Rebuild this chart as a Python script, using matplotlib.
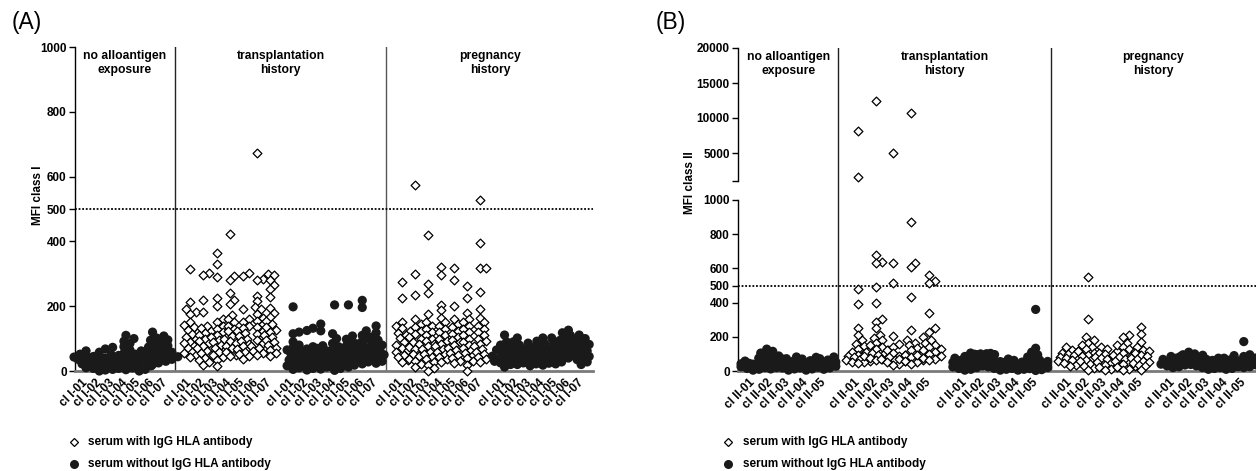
import numpy as np
import matplotlib
matplotlib.use("Agg")
import matplotlib.pyplot as plt
from matplotlib.lines import Line2D

plt.rcParams['font.family'] = ['Liberation Sans', 'DejaVu Sans']

# ---- data: panel A, MFI class I (one list per bead column) ----
a_labels = ['cl I-01', 'cl I-02', 'cl I-03', 'cl I-04', 'cl I-05', 'cl I-06', 'cl I-07']

a_none = [
    [62, 52, 45, 43, 41, 40, 38, 36, 33, 28, 22, 15, 10],
    [68, 58, 50, 44, 40, 35, 30, 27, 22, 18, 12, 8, 3, 0],
    [73, 48, 42, 36, 30, 25, 20, 16, 12, 8, 5],
    [110, 100, 92, 85, 75, 65, 55, 48, 42, 38, 33, 28, 22, 16, 10, 4],
    [62, 52, 48, 44, 40, 35, 30, 22, 16, 10, 5, 0],
    [120, 102, 95, 88, 80, 74, 68, 62, 57, 52, 47, 42, 36, 30, 25, 20],
    [108, 96, 85, 78, 70, 64, 58, 52, 48, 44, 40, 36, 30],
]
a_tx_pos = [
    [315, 212, 190, 182, 176, 150, 142, 135, 128, 120, 113, 105, 98, 90, 85, 78, 72, 66, 60, 55, 48, 44],
    [302, 296, 220, 183, 140, 133, 125, 118, 110, 100, 92, 85, 78, 70, 62, 55, 48, 40, 35, 28, 20],
    [365, 330, 290, 224, 200, 160, 150, 140, 130, 120, 112, 104, 96, 88, 80, 72, 65, 58, 50, 42, 35, 15],
    [422, 292, 280, 242, 220, 208, 172, 160, 150, 140, 130, 122, 115, 108, 100, 92, 85, 78, 70, 60, 50, 45],
    [302, 292, 190, 160, 150, 140, 132, 124, 116, 108, 100, 92, 84, 76, 68, 60, 52, 45, 38],
    [673, 283, 280, 232, 215, 198, 190, 175, 165, 155, 145, 135, 125, 115, 105, 95, 85, 78, 70, 62, 55, 50],
    [300, 296, 282, 265, 252, 228, 195, 180, 168, 155, 145, 135, 128, 120, 112, 104, 96, 88, 80, 72, 64, 55, 45],
]
a_tx_neg = [
    [198, 120, 115, 90, 80, 72, 65, 58, 52, 46, 40, 34, 28, 22, 16, 10, 5],
    [132, 125, 75, 68, 62, 56, 50, 44, 38, 32, 26, 20, 14, 8, 3],
    [145, 124, 78, 70, 62, 55, 48, 42, 36, 30, 24, 18, 12, 6],
    [204, 115, 100, 85, 75, 66, 58, 50, 44, 38, 32, 26, 20, 14, 8, 2],
    [204, 108, 98, 88, 78, 70, 62, 55, 48, 42, 36, 30, 24, 18, 12],
    [218, 196, 124, 110, 100, 92, 84, 76, 68, 60, 52, 46, 40, 34, 28, 22],
    [139, 118, 105, 95, 88, 80, 74, 68, 62, 56, 50, 44, 38, 30, 24],
]
a_preg_pos = [
    [276, 225, 150, 140, 132, 125, 118, 110, 102, 95, 88, 80, 72, 65, 58, 50, 42, 35, 28],
    [574, 299, 235, 160, 145, 135, 125, 115, 105, 98, 90, 82, 75, 68, 60, 52, 45, 38, 30, 22, 12],
    [420, 268, 242, 177, 150, 140, 130, 120, 110, 100, 92, 84, 76, 68, 60, 52, 44, 36, 28, 20, 8, 0],
    [321, 297, 204, 187, 165, 150, 140, 130, 120, 110, 100, 92, 84, 76, 68, 60, 52, 44, 36, 28],
    [317, 280, 200, 160, 145, 135, 125, 115, 105, 96, 88, 80, 72, 64, 56, 48, 40, 32, 24],
    [262, 224, 180, 160, 150, 140, 130, 120, 110, 100, 90, 80, 72, 64, 56, 48, 40, 30, 20, 0],
    [528, 395, 318, 318, 243, 191, 165, 150, 140, 130, 120, 110, 100, 92, 84, 76, 68, 60, 52, 44, 36, 28],
]
a_preg_neg = [
    [111, 90, 80, 72, 65, 60, 55, 50, 46, 42, 38, 34, 30, 25, 20, 12],
    [102, 90, 80, 72, 66, 60, 55, 50, 45, 40, 35, 30, 25, 20],
    [86, 78, 70, 64, 58, 53, 48, 44, 40, 36, 32, 28, 22, 16],
    [102, 92, 84, 76, 68, 62, 56, 50, 45, 40, 35, 30, 24, 18],
    [102, 94, 86, 80, 74, 68, 62, 56, 50, 45, 40, 34, 28, 22],
    [126, 118, 110, 102, 95, 88, 82, 76, 70, 64, 58, 52, 46, 40],
    [111, 100, 90, 82, 75, 68, 62, 56, 50, 45, 40, 35, 28, 20],
]

# ---- data: panel B, MFI class II ----
b_labels = ['cl II-01', 'cl II-02', 'cl II-03', 'cl II-04', 'cl II-05']

b_none = [
    [58, 52, 48, 45, 42, 40, 38, 36, 34, 32, 30, 28, 25, 20, 15, 10, 5],
    [128, 115, 105, 95, 88, 80, 75, 70, 65, 60, 50, 42, 35, 28, 20, 12],
    [82, 72, 62, 55, 48, 42, 38, 34, 30, 26, 22, 18, 12, 5],
    [80, 70, 60, 52, 46, 42, 38, 34, 30, 26, 22, 18, 12, 5],
    [82, 72, 64, 58, 52, 48, 44, 40, 36, 32, 28, 24, 18, 10],
]
b_tx_pos = [
    [8200, 1530, 478, 392, 250, 210, 180, 160, 145, 130, 120, 110, 100, 95, 90, 85, 80, 75, 70, 65, 60, 55, 50, 45],
    [12500, 678, 640, 632, 489, 400, 302, 288, 250, 210, 195, 180, 165, 150, 140, 130, 120, 112, 105, 98, 92, 86, 80, 74, 68, 62],
    [5000, 630, 513, 205, 160, 140, 120, 105, 95, 88, 80, 72, 65, 58, 50, 42, 35],
    [10700, 870, 630, 606, 435, 240, 180, 165, 150, 135, 120, 108, 96, 88, 80, 72, 65, 58, 50, 42],
    [561, 528, 516, 337, 250, 230, 197, 180, 165, 150, 140, 130, 120, 110, 100, 92, 85, 78, 70, 62],
]
b_tx_neg = [
    [95, 85, 75, 68, 62, 56, 50, 45, 40, 36, 32, 28, 24, 20, 15, 10, 5],
    [105, 103, 101, 100, 98, 96, 94, 92, 90, 88, 85, 80, 75, 70, 60, 50, 40, 30],
    [80, 70, 62, 55, 50, 45, 42, 38, 35, 32, 28, 24, 20, 15, 10, 5],
    [70, 62, 56, 52, 48, 44, 40, 36, 32, 28, 24, 20, 15, 10, 5],
    [360, 133, 110, 95, 82, 72, 64, 56, 50, 44, 38, 32, 26, 20, 14, 8, 3],
]
b_preg_pos = [
    [140, 125, 115, 105, 98, 92, 86, 80, 74, 68, 62, 56, 50, 44, 38, 32],
    [548, 304, 197, 180, 165, 150, 138, 126, 115, 105, 96, 88, 80, 72, 64, 56, 48, 40, 30, 15, 5],
    [140, 128, 118, 108, 98, 90, 82, 75, 68, 60, 52, 45, 38, 30, 22, 12, 5],
    [210, 200, 162, 150, 138, 126, 115, 105, 96, 88, 80, 72, 64, 56, 48, 40, 32, 24, 12, 5],
    [260, 218, 171, 140, 125, 115, 105, 95, 85, 75, 68, 60, 52, 44, 36, 28, 5],
]
b_preg_neg = [
    [95, 85, 76, 68, 62, 56, 50, 45, 40, 35, 30, 25, 20],
    [110, 100, 92, 86, 80, 74, 68, 62, 56, 50, 44, 38],
    [75, 68, 62, 56, 50, 45, 40, 35, 30, 25, 20, 15, 10],
    [90, 75, 65, 58, 52, 46, 40, 35, 30, 25, 20, 15, 10],
    [172, 95, 85, 76, 68, 60, 54, 48, 42, 36, 30, 25, 20],
]

group_names = ['no alloantigen\nexposure', 'transplantation\nhistory', 'pregnancy\nhistory']

W, H = 1256, 471
fig = plt.figure(figsize=(W / 100, H / 100), dpi=100)


def swarm_x(ax, xc, vals, dmin=5.5, step=2.0, maxoff=12):
    # simple beeswarm in pixel space so overlapping points spread sideways
    vals = np.asarray(vals, float)
    disp = ax.transData.transform(np.column_stack([np.full(len(vals), xc), vals]))
    ys = disp[:, 1]
    offs = np.zeros(len(vals))
    placed = []
    n = int(maxoff / step)
    cands = [0.0]
    for k in range(1, n + 1):
        cands += [k * step, -k * step]
    for i in np.argsort(ys):
        best, bestd = 0.0, -1
        for c in cands:
            d = min([np.hypot(c - px, ys[i] - py) for px, py in placed], default=1e9)
            if d >= dmin:
                best = c
                break
            if d > bestd:
                best, bestd = c, d
        placed.append((best, ys[i]))
        offs[i] = best
    back = ax.transData.inverted().transform(np.column_stack([disp[:, 0] + offs, ys]))
    return back[:, 0]


def draw_group(ax, start, step, cols, filled):
    pos = [start + i * step for i in range(len(cols))]
    for xc, vals in zip(pos, cols):
        xs = swarm_x(ax, xc, vals)
        if filled:
            ax.scatter(xs, vals, s=44, marker='o', color='#1a1a1a', edgecolors='none',
                       clip_on=False, zorder=3)
        else:
            ax.scatter(xs, vals, s=20, marker='D', facecolors='white', edgecolors='black',
                       linewidths=0.9, clip_on=False, zorder=3)
    return pos


def style_axes(ax):
    for s in ['top', 'right']:
        ax.spines[s].set_visible(False)
    ax.spines['left'].set_linewidth(1)
    ax.spines['bottom'].set_color('#7a7a7a')
    ax.spines['bottom'].set_linewidth(2)
    ax.tick_params(axis='y', length=4, width=1, labelsize=8.5, pad=2)
    ax.tick_params(axis='x', length=0, labelsize=8.5, pad=7)


def set_xlabels(ax, ticks, labels):
    ax.set_xticks(ticks)
    ax.set_xticklabels(labels, rotation=45, ha='right', va='center',
                       rotation_mode='anchor', fontweight='bold')


# ---------------- panel A ----------------
axA = fig.add_axes([75 / W, 100 / H, 518 / W, 324 / H])
axA.set_xlim(0, 38.95)
axA.set_ylim(0, 1000)
style_axes(axA)
axA.set_yticks([0, 200, 400, 500, 600, 800, 1000])

ticksA = []
ticksA += draw_group(axA, 0.83, 1.0, a_none, True)
ticksA += draw_group(axA, 8.65, 1.0, a_tx_pos, False)
ticksA += draw_group(axA, 16.4, 1.04, a_tx_neg, True)
ticksA += draw_group(axA, 24.6, 0.98, a_preg_pos, False)
ticksA += draw_group(axA, 32.3, 0.96, a_preg_neg, True)
set_xlabels(axA, ticksA, a_labels * 5)

axA.axvline(7.5, color='#222222', lw=1)
axA.axvline(23.4, color='#555555', lw=1)
axA.axhline(500, color='black', lw=1.3, ls=(0, (1, 1)))
for cx, name in zip([3.75, 15.45, 31.2], group_names):
    axA.text(cx, 0.99, name, transform=axA.get_xaxis_transform(), ha='center', va='top',
             fontsize=8.7, fontweight='bold', linespacing=1.15)

# ---------------- panel B (broken y axis) ----------------
def fwd(v):
    v = np.asarray(v, float)
    return np.where(v <= 1000, v * 0.171, 190 + (v - 1000) * 0.007)


def inv(p):
    p = np.asarray(p, float)
    return np.where(p <= 171, p / 0.171, np.where(p < 190, 1000.0, 1000 + (p - 190) / 0.007))


axB = fig.add_axes([738 / W, 100 / H, 518 / W, 323 / H])
axB.set_yscale('function', functions=(fwd, inv))
axB.set_xlim(0, 29.27)
axB.set_ylim(0, 20000)
style_axes(axB)
axB.spines['left'].set_visible(False)
axB.plot([0, 0], [0, 1000], transform=axB.get_yaxis_transform(), color='black', lw=1, clip_on=False)
axB.plot([0, 0], [1000.001, 20000], transform=axB.get_yaxis_transform(), color='black', lw=1, clip_on=False)
axB.set_yticks([0, 200, 400, 500, 600, 800, 1000, 1000.001, 5000, 10000, 15000, 20000])
axB.set_yticklabels(['0', '200', '400', '500', '600', '800', '1000', '', '5000', '10000', '15000', '20000'])
axB.minorticks_off()

ticksB = []
ticksB += draw_group(axB, 0.85, 1.0, b_none, True)
ticksB += draw_group(axB, 6.78, 1.0, b_tx_pos, False)
ticksB += draw_group(axB, 12.82, 1.0, b_tx_neg, True)
ticksB += draw_group(axB, 18.76, 1.0, b_preg_pos, False)
ticksB += draw_group(axB, 24.58, 1.0, b_preg_neg, True)
set_xlabels(axB, ticksB, b_labels * 5)

axB.axvline(5.65, color='#222222', lw=1)
axB.axvline(17.68, color='#222222', lw=1)
axB.axhline(500, color='black', lw=1.3, ls=(0, (1, 1)))
for cx, name in zip([2.83, 11.67, 23.48], group_names):
    axB.text(cx, 0.99, name, transform=axB.get_xaxis_transform(), ha='center', va='top',
             fontsize=8.7, fontweight='bold', linespacing=1.15)

for ax in (axA, axB):
    for lab in ax.get_yticklabels():
        lab.set_fontweight('bold')

# panel letters, y labels, legends
fig.text(12 / W, 1 - 22 / H, '(A)', fontsize=16.5, va='center', ha='left')
fig.text(656 / W, 1 - 22 / H, '(B)', fontsize=16.5, va='center', ha='left')
fig.text(38 / W, 1 - 195 / H, 'MFI class I', rotation=90, ha='center', va='center',
         fontsize=8.5, fontweight='bold')
fig.text(690 / W, 1 - 183 / H, 'MFI class II', rotation=90, ha='center', va='center',
         fontsize=8.5, fontweight='bold')

for mx, tx in [(74, 88), (728, 743)]:
    fig.add_artist(Line2D([mx / W], [1 - 442 / H], marker='D', ms=4.2, mfc='white', mec='black',
                          mew=0.9, ls='none', transform=fig.transFigure))
    fig.add_artist(Line2D([mx / W], [1 - 464 / H], marker='o', ms=6.5, mfc='#1a1a1a', mec='none',
                          ls='none', transform=fig.transFigure))
    fig.text(tx / W, 1 - 442 / H, 'serum with IgG HLA antibody', va='center', fontsize=8.5,
             fontweight='bold')
    fig.text(tx / W, 1 - 464 / H, 'serum without IgG HLA antibody', va='center', fontsize=8.5,
             fontweight='bold')

fig.savefig('out.png', dpi=100)
